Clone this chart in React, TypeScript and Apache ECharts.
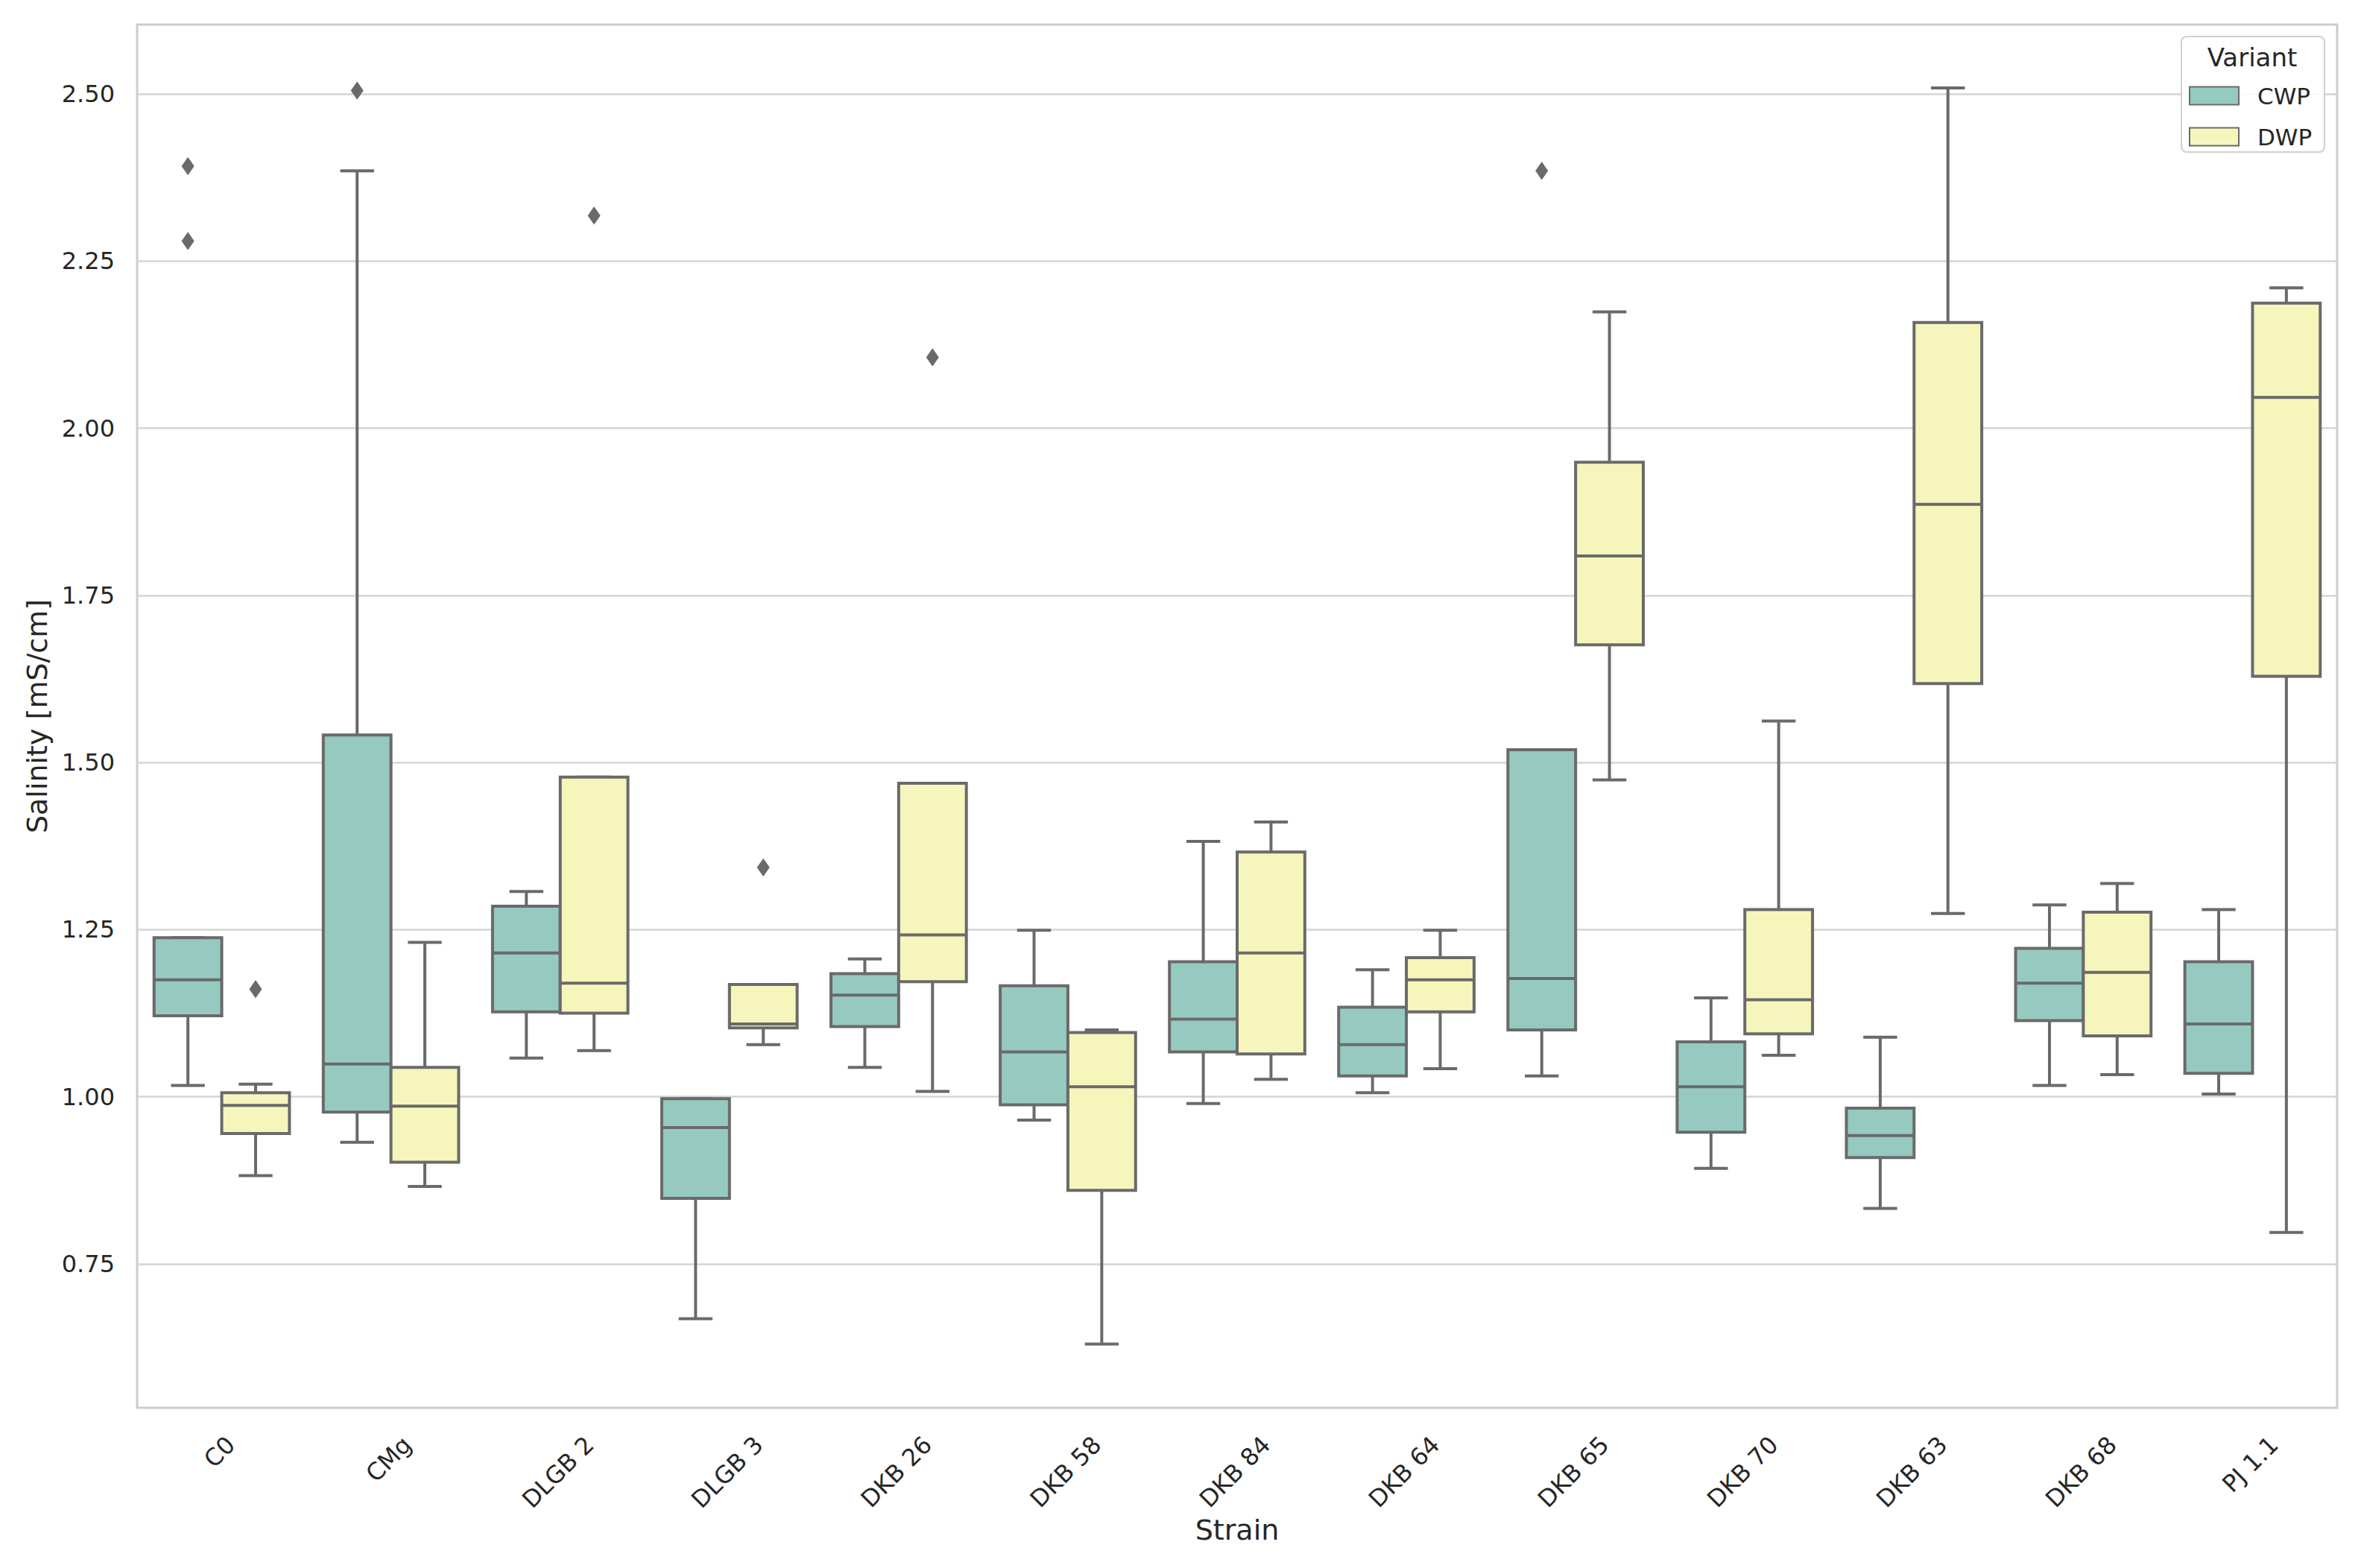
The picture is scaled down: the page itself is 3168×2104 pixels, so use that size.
import React, { useEffect, useRef } from "react";
import * as echarts from "echarts";

const strains = ["C0", "CMg", "DLGB 2", "DLGB 3", "DKB 26", "DKB 58", "DKB 84", "DKB 64", "DKB 65", "DKB 70", "DKB 63", "DKB 68", "PJ 1.1"];
const variants = ["CWP", "DWP"];

// CWP box statistics (lower whisker, Q1, median, Q3, upper whisker)
const cwpMin = [1.017, 0.932, 1.058, 0.668, 1.044, 0.965, 0.990, 1.006, 1.031, 0.893, 0.833, 1.017, 1.004];
const cwpQ1 = [1.121, 0.977, 1.127, 0.848, 1.105, 0.988, 1.067, 1.031, 1.100, 0.947, 0.909, 1.114, 1.035];
const cwpMed = [1.175, 1.049, 1.215, 0.954, 1.152, 1.067, 1.116, 1.078, 1.177, 1.015, 0.942, 1.170, 1.109];
const cwpQ3 = [1.238, 1.541, 1.285, 0.997, 1.184, 1.166, 1.202, 1.134, 1.519, 1.082, 0.983, 1.222, 1.202];
const cwpMax = [1.238, 2.385, 1.307, 0.997, 1.206, 1.249, 1.382, 1.190, 1.519, 1.148, 1.089, 1.287, 1.280];

// DWP box statistics
const dwpMin = [0.882, 0.866, 1.069, 1.078, 1.008, 0.630, 1.026, 1.042, 1.474, 1.062, 1.274, 1.033, 0.797];
const dwpQ1 = [0.945, 0.902, 1.125, 1.103, 1.172, 0.860, 1.064, 1.127, 1.676, 1.094, 1.618, 1.091, 1.629];
const dwpMed = [0.987, 0.986, 1.170, 1.109, 1.242, 1.015, 1.215, 1.175, 1.809, 1.145, 1.886, 1.186, 2.046];
const dwpQ3 = [1.006, 1.044, 1.478, 1.168, 1.469, 1.096, 1.366, 1.208, 1.949, 1.280, 2.158, 1.276, 2.187];
const dwpMax = [1.019, 1.231, 1.478, 1.168, 1.469, 1.100, 1.411, 1.249, 2.174, 1.562, 2.509, 1.319, 2.210];

// Outliers: [strain, value]
const cwpOutlierStrain = ["C0", "C0", "CMg", "DKB 65"];
const cwpOutlierValue = [2.392, 2.280, 2.505, 2.385];
const dwpOutlierStrain = ["C0", "DLGB 2", "DLGB 3", "DKB 26"];
const dwpOutlierValue = [1.161, 2.318, 1.343, 2.106];

const yTicks = [0.75, 1.0, 1.25, 1.5, 1.75, 2.0, 2.25, 2.5];
const Y_MIN = 0.5348;
const Y_MAX = 2.6037;

const FILL = ["#96cac1", "#f6f6bc"];
const GRAY = "#6a6a6a";
const TEXT = "#262626";
const FONT = "DejaVu Sans";
const LW = 4;
const TICK_FS = 32;
const LABEL_FS = 38;

export default function App() {
  const ref = useRef<HTMLDivElement>(null);

  useEffect(() => {
    document.body.style.margin = "0";
    const el = ref.current!;
    const chart = echarts.init(el, null, { renderer: "svg" });

    const ctx = document.createElement("canvas").getContext("2d")!;
    ctx.font = `${TICK_FS}px "${FONT}"`;
    const labelWidths = strains.map((s) => ctx.measureText(s).width);

    const boxData = (mn: number[], q1: number[], md: number[], q3: number[], mx: number[]) =>
      strains.map((_, i) => [i, mn[i], q1[i], md[i], q3[i], mx[i]]);

    const makeBoxRender = (hue: number) => (params: any, api: any) => {
      const i = api.value(0);
      const band = api.size([1, 0])[0];
      const bw = band * 0.4;
      const cx = api.coord([i, 1])[0] + (hue === 0 ? -1 : 1) * band * 0.2;
      const yMin = api.coord([i, api.value(1)])[1];
      const yQ1 = api.coord([i, api.value(2)])[1];
      const yMed = api.coord([i, api.value(3)])[1];
      const yQ3 = api.coord([i, api.value(4)])[1];
      const yMax = api.coord([i, api.value(5)])[1];
      const ls = { stroke: GRAY, lineWidth: LW, lineCap: "butt" };
      return {
        type: "group",
        children: [
          { type: "line", shape: { x1: cx, y1: yQ3, x2: cx, y2: yMax }, style: ls },
          { type: "line", shape: { x1: cx, y1: yQ1, x2: cx, y2: yMin }, style: ls },
          { type: "line", shape: { x1: cx - bw / 4, y1: yMax, x2: cx + bw / 4, y2: yMax }, style: ls },
          { type: "line", shape: { x1: cx - bw / 4, y1: yMin, x2: cx + bw / 4, y2: yMin }, style: ls },
          {
            type: "rect",
            shape: { x: cx - bw / 2, y: yQ3, width: bw, height: yQ1 - yQ3 },
            style: { fill: FILL[hue], stroke: GRAY, lineWidth: LW },
          },
          { type: "line", shape: { x1: cx - bw / 2, y1: yMed, x2: cx + bw / 2, y2: yMed }, style: ls },
        ],
      };
    };

    const makeOutlierRender = (hue: number) => (params: any, api: any) => {
      const i = api.value(0);
      const band = api.size([1, 0])[0];
      const p = api.coord([i, api.value(1)]);
      const cx = p[0] + (hue === 0 ? -1 : 1) * band * 0.2;
      const cy = p[1];
      const hw = 8;
      const hh = 11.5;
      return {
        type: "polygon",
        shape: { points: [[cx, cy - hh], [cx + hw, cy], [cx, cy + hh], [cx - hw, cy]] },
        style: { fill: GRAY, stroke: GRAY, lineWidth: 1 },
      };
    };

    const labelRender = (params: any, api: any) => {
      const i = api.value(0);
      const x = api.coord([i, Y_MIN])[0];
      const bottom = params.coordSys.y + params.coordSys.height;
      const w = labelWidths[i];
      const h = TICK_FS * 1.164;
      const side = (w + h) / Math.SQRT2;
      return {
        type: "text",
        x: x - 3,
        y: bottom + 31 + side / 2,
        rotation: Math.PI / 4,
        style: {
          text: strains[i],
          fontSize: TICK_FS,
          fontFamily: FONT,
          fill: TEXT,
          align: "center",
          verticalAlign: "middle",
        },
      };
    };

    const outData = (names: string[], vals: number[]) => names.map((n, k) => [strains.indexOf(n), vals[k]]);

    const option: any = {
      animation: false,
      backgroundColor: "#ffffff",
      textStyle: { fontFamily: FONT },
      grid: {
        left: 184,
        right: 32,
        top: 33,
        bottom: 215,
        show: true,
        borderColor: "#cccccc",
        borderWidth: 3,
        containLabel: false,
      },
      legend: {
        orient: "vertical",
        left: 2937,
        top: 113,
        padding: 0,
        itemWidth: 66,
        itemHeight: 24,
        itemGap: 24,
        icon: "rect",
        data: variants,
        itemStyle: { borderColor: GRAY, borderWidth: 2 },
        textStyle: { fontSize: 31, color: TEXT, fontFamily: FONT, lineHeight: 24, padding: [0, 0, 0, 20] },
        z: 6,
      },
      graphic: [
        {
          type: "rect",
          left: 2926,
          top: 48,
          shape: { width: 192, height: 155, r: 7 },
          style: { fill: "rgba(255,255,255,0.85)", stroke: "#d0d0d0", lineWidth: 2 },
          z: 4,
        },
        {
          type: "text",
          x: 3022,
          y: 77,
          style: {
            text: "Variant",
            fontSize: 34,
            fontFamily: FONT,
            fill: TEXT,
            align: "center",
            verticalAlign: "middle",
          },
          z: 5,
        },
      ],
      xAxis: {
        type: "category",
        data: strains,
        boundaryGap: true,
        axisLine: { show: false },
        axisTick: { show: false },
        axisLabel: { show: false },
        splitLine: { show: false },
        name: "Strain",
        nameLocation: "middle",
        nameGap: 145,
        nameTextStyle: { fontSize: LABEL_FS, color: TEXT, fontFamily: FONT },
      },
      yAxis: {
        type: "value",
        min: Y_MIN,
        max: Y_MAX,
        axisLine: { show: false },
        axisTick: { show: false, customValues: yTicks },
        axisLabel: {
          customValues: yTicks,
          formatter: (v: number) => v.toFixed(2),
          fontSize: TICK_FS,
          color: TEXT,
          fontFamily: FONT,
          margin: 30,
        },
        splitLine: { show: true, lineStyle: { color: "#d4d4d4", width: 2.5 } },
        name: "Salinity [mS/cm]",
        nameLocation: "middle",
        nameGap: 115,
        nameTextStyle: { fontSize: LABEL_FS, color: TEXT, fontFamily: FONT },
      },
      series: [
        {
          type: "custom",
          name: "CWP",
          renderItem: makeBoxRender(0),
          data: boxData(cwpMin, cwpQ1, cwpMed, cwpQ3, cwpMax),
          encode: { x: 0, y: [1, 2, 3, 4, 5] },
          itemStyle: { color: FILL[0] },
          z: 2,
        },
        {
          type: "custom",
          name: "DWP",
          renderItem: makeBoxRender(1),
          data: boxData(dwpMin, dwpQ1, dwpMed, dwpQ3, dwpMax),
          encode: { x: 0, y: [1, 2, 3, 4, 5] },
          itemStyle: { color: FILL[1] },
          z: 2,
        },
        {
          type: "custom",
          renderItem: makeOutlierRender(0),
          data: outData(cwpOutlierStrain, cwpOutlierValue),
          encode: { x: 0, y: 1 },
          z: 3,
        },
        {
          type: "custom",
          renderItem: makeOutlierRender(1),
          data: outData(dwpOutlierStrain, dwpOutlierValue),
          encode: { x: 0, y: 1 },
          z: 3,
        },
        {
          type: "custom",
          renderItem: labelRender,
          data: strains.map((_, i) => [i, Y_MIN]),
          encode: { x: 0, y: 1 },
          clip: false,
          silent: true,
          z: 3,
        },
      ],
    };

    chart.setOption(option);
    return () => chart.dispose();
  }, []);

  return <div ref={ref} style={{ width: 3168, height: 2104 }} />;
}
